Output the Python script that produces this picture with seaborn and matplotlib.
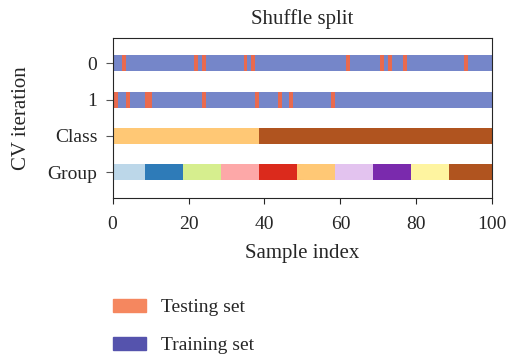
import matplotlib
matplotlib.use('Agg')
import matplotlib.pyplot as plt
from matplotlib.patches import Patch
import numpy as np
import pandas as pd
import seaborn as sns

n_samples = 100
# test indices of each ShuffleSplit iteration
test_0 = [4, 23, 25, 36, 38, 63, 72, 74, 78, 94]
test_1 = [1, 2, 5, 10, 11, 25, 39, 45, 48, 59]
# class of each sample (first 40 are class 0)
class_sizes = [40, 60]
# ten groups of ten samples
group_sizes = [10] * 10

row_labels = ['0', '1', 'Class', 'Group']
legend_labels = ['Testing set', 'Training set']

cv_colors = {'train': '#7586c9', 'test': '#e96a4e'}
legend_colors = ['#f5875f', '#5553ad']
class_colors = {0: '#ffc875', 1: '#b0541f'}
group_colors = {0: '#bcd7e9', 1: '#2e7bb8', 2: '#d6ee8e', 3: '#fda8a8', 4: '#db2a1c',
                5: '#ffc875', 6: '#e3c3ef', 7: '#7a2aad', 8: '#fef4a0', 9: '#b0541f'}

sns.set_style('ticks')
plt.rcParams['font.family'] = ['Liberation Serif', 'DejaVu Serif']
plt.rcParams['font.size'] = 14

idx = np.arange(n_samples)
rows = []
for r, tt in enumerate([test_0, test_1]):
    kind = np.where(np.isin(idx, tt), 'test', 'train')
    rows.append(pd.DataFrame({'index': idx, 'row': r, 'kind': kind}))
cls = np.repeat(np.arange(len(class_sizes)), class_sizes)
grp = np.repeat(np.arange(len(group_sizes)), group_sizes)

fig, ax = plt.subplots(figsize=(5.07, 3.59), dpi=100)
fig.subplots_adjust(left=0.222, right=0.971, top=0.895, bottom=0.449)

mk = dict(marker='_', s=67, linewidth=11.5, legend=False, ax=ax)
for df in rows:
    sns.scatterplot(data=df, x='index', y='row', hue='kind', palette=cv_colors, **mk)
sns.scatterplot(x=idx, y=np.full(n_samples, 2), hue=cls, palette=class_colors, **mk)
sns.scatterplot(x=idx, y=np.full(n_samples, 3), hue=grp, palette=group_colors, **mk)

ax.set_xlim(0, 100)
ax.set_ylim(3.7, -0.7)
ax.set_yticks(range(4))
ax.set_yticklabels(row_labels)
ax.set_xlabel('Sample index', fontsize=15, labelpad=8)
ax.set_ylabel('CV iteration', fontsize=15, labelpad=12)
ax.set_title('Shuffle split', fontsize=15, pad=10)
ax.tick_params(axis='y', length=5, pad=6, color='#555555')
ax.tick_params(axis='x', length=4, pad=9)

handles = [Patch(color=c) for c in legend_colors]
ax.legend(handles, legend_labels, loc='upper left', bbox_to_anchor=(0.0, -0.63),
          frameon=False, borderpad=0, borderaxespad=0, handlelength=1.7,
          handletextpad=0.8, labelspacing=1.05)

fig.savefig('out.png', dpi=100)
